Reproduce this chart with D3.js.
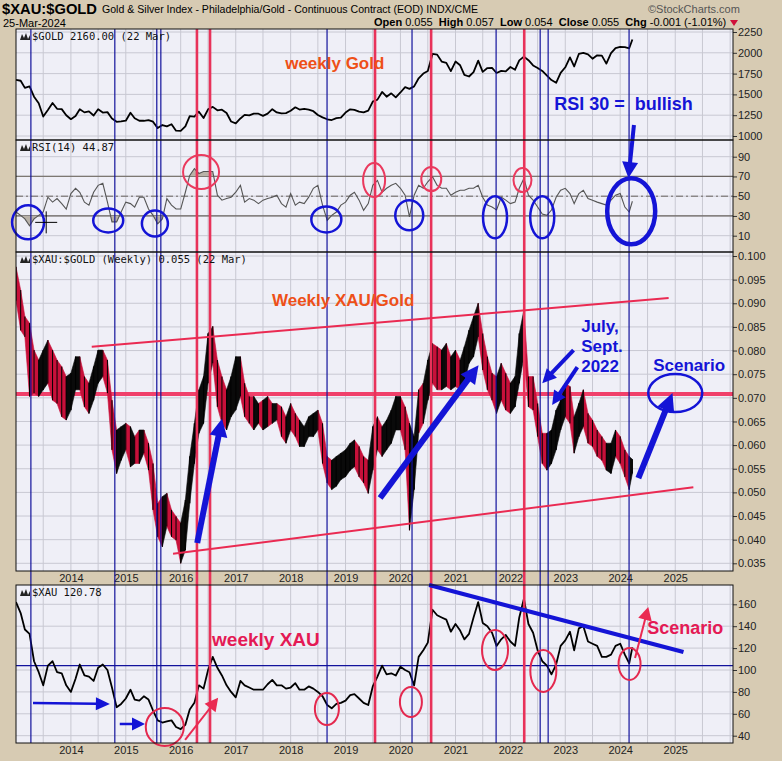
<!DOCTYPE html>
<html><head><meta charset="utf-8">
<script src="https://cdn.jsdelivr.net/npm/d3@7"></script>
<style>
body{margin:0;background:#d7cbb3;}
svg{display:block;font-family:Arial,"Liberation Sans",sans-serif;}
</style>
</head><body>
<svg id="chart" width="782" height="761"></svg>
<script>
// ---------------- DATA (monthly samples, first of each month Jan 2013 .. Mar 2024, then 22 Mar 2024) -------------
const lastDate = "2024-03-22";
const goldValues = [1675,
 1664,1578,1596,1472,1393,1234,1313,1396,1327,1323,1250,1202,
 1240,1322,1284,1296,1246,1322,1282,1287,1210,1171,1175,1184,
 1279,1213,1183,1183,1190,1172,1095,1132,1115,1142,1064,1061,
 1116,1238,1233,1292,1216,1321,1350,1309,1316,1276,1174,1152,
 1211,1254,1249,1268,1268,1242,1269,1322,1283,1271,1275,1303,
 1345,1318,1325,1316,1298,1253,1224,1201,1192,1215,1222,1282,
 1321,1313,1292,1284,1305,1413,1437,1529,1472,1513,1464,1523,
 1587,1566,1596,1694,1751,1781,1986,1978,1895,1879,1780,1895,
 1850,1734,1715,1768,1905,1771,1817,1818,1757,1783,1776,1829,
 1797,1909,1954,1911,1848,1817,1782,1726,1672,1640,1759,1826,
 1945,1836,1986,1999,1982,1929,1970,1966,1870,1996,2057,2072,
 2067,2054,
 2160];
const rsiValues = [
 34,30.6,27,20,27,30.6,34,49,44,47.6,42.5,37,
 52.7,58,54,44,41,54,61,63,44,24,24,34,
 44,42.5,39,49,49,37,30.6,22,27,47.6,41,37,
 37,54,71,78,73,75,75,75,51,46,47.6,49,
 54,61,44,47.6,46,42.5,46,47.6,49,51,42.5,39,
 52.7,41,44,42.5,49,58,61,41,25.5,30.6,34,41,
 44,51,54,46,35.7,42.5,61,66,54,58,61,63,
 58,51,29,51,61,58,64.6,69.7,61,58,58,51,
 54,56,56,58,58,61,49,41,39,36,49,46,
 42.5,44,58,68,51,46,39,32,30.6,36,49,56,
 58,52.7,42.5,52.7,56,47.6,46,44,42.5,41,46,51,
 52.7,39,34,
 44.87];
const ratioValues = [
 0.096,0.089,0.085,0.078,0.077,0.0717,0.076,0.078,0.0745,0.073,0.0717,0.068,
 0.071,0.0745,0.078,0.0717,0.0703,0.073,0.078,0.0787,0.0745,0.0625,0.059,0.0604,
 0.0618,0.059,0.059,0.0576,0.061,0.056,0.052,0.0449,0.0428,0.047,0.0435,0.042,
 0.0378,0.0435,0.052,0.059,0.066,0.071,0.080,0.0822,0.0745,0.068,0.066,0.0703,
 0.073,0.0766,0.0695,0.068,0.0667,0.0674,0.066,0.0667,0.066,0.0674,0.0653,0.0618,
 0.066,0.0646,0.0618,0.0625,0.064,0.0646,0.066,0.0618,0.0547,0.0533,0.054,0.0555,
 0.0561,0.0576,0.059,0.0568,0.054,0.0526,0.0576,0.0618,0.059,0.0618,0.064,0.0674,
 0.0674,0.0646,0.0463,0.0576,0.068,0.0674,0.0745,0.080,0.078,0.0766,0.0787,0.0745,
 0.0766,0.0745,0.078,0.0808,0.0836,0.0865,0.080,0.0766,0.073,0.0703,0.0745,0.0717,
 0.0703,0.0703,0.080,0.0836,0.071,0.0695,0.0646,0.0604,0.059,0.061,0.0653,0.0674,
 0.071,0.0688,0.061,0.0667,0.0688,0.064,0.0625,0.0604,0.0597,0.0576,0.0576,0.0604,
 0.059,0.0555,0.0515,
 0.055];
const ratioHigh = [
 0.0977,0.0928,0.0872,0.0858,0.0801,0.0780,0.0801,0.0822,0.0801,0.0780,0.0766,0.0745,
 0.0752,0.0787,0.0787,0.0745,0.0731,0.0766,0.0801,0.0801,0.0780,0.0695,0.0632,0.0639,
 0.0646,0.0639,0.0618,0.0632,0.0632,0.0604,0.0561,0.0477,0.0491,0.0498,0.0463,0.0449,
 0.0435,0.0484,0.0576,0.0646,0.0717,0.0745,0.0836,0.0851,0.0780,0.0745,0.0717,0.0745,
 0.0787,0.0787,0.0731,0.0703,0.0703,0.0688,0.0695,0.0703,0.0688,0.0688,0.0681,0.0660,
 0.0688,0.0667,0.0653,0.0639,0.0660,0.0667,0.0674,0.0646,0.0576,0.0568,0.0576,0.0583,
 0.0590,0.0604,0.0611,0.0597,0.0576,0.0568,0.0639,0.0660,0.0639,0.0653,0.0674,0.0703,
 0.0703,0.0681,0.0646,0.0618,0.0717,0.0731,0.0780,0.0815,0.0808,0.0801,0.0815,0.0787,
 0.0801,0.0780,0.0808,0.0843,0.0872,0.0900,0.0836,0.0787,0.0752,0.0745,0.0773,0.0752,
 0.0731,0.0745,0.0836,0.0886,0.0745,0.0745,0.0688,0.0625,0.0625,0.0632,0.0674,0.0695,
 0.0731,0.0724,0.0660,0.0688,0.0717,0.0667,0.0653,0.0632,0.0618,0.0604,0.0604,0.0632,
 0.0618,0.0590,0.0576,
 0.0570];
const ratioLow = [
 0.0906,0.0843,0.0829,0.0703,0.0710,0.0703,0.0717,0.0731,0.0695,0.0688,0.0660,0.0653,
 0.0674,0.0717,0.0717,0.0681,0.0667,0.0695,0.0731,0.0745,0.0710,0.0590,0.0540,0.0568,
 0.0590,0.0554,0.0561,0.0561,0.0583,0.0547,0.0463,0.0406,0.0385,0.0428,0.0406,0.0399,
 0.0350,0.0378,0.0477,0.0561,0.0625,0.0646,0.0731,0.0773,0.0681,0.0646,0.0632,0.0660,
 0.0674,0.0703,0.0660,0.0646,0.0632,0.0646,0.0632,0.0639,0.0646,0.0653,0.0618,0.0604,
 0.0632,0.0618,0.0597,0.0597,0.0618,0.0618,0.0632,0.0561,0.0520,0.0506,0.0513,0.0527,
 0.0533,0.0547,0.0554,0.0533,0.0520,0.0498,0.0547,0.0590,0.0576,0.0590,0.0604,0.0632,
 0.0632,0.0590,0.0420,0.0506,0.0625,0.0646,0.0695,0.0731,0.0717,0.0717,0.0724,0.0717,
 0.0724,0.0717,0.0731,0.0773,0.0787,0.0829,0.0759,0.0717,0.0695,0.0667,0.0695,0.0674,
 0.0667,0.0681,0.0731,0.0787,0.0681,0.0674,0.0618,0.0561,0.0547,0.0561,0.0590,0.0632,
 0.0660,0.0646,0.0583,0.0618,0.0639,0.0604,0.0597,0.0576,0.0568,0.0547,0.0540,0.0576,
 0.0561,0.0533,0.0506,
 0.0540];
const xauValues = [
 162,152,137,133,108,98,86,104,108,98,97,86,
 80,92,105,95,94,90,102,105,100,84,66,69,
 74,82,73,72,76,73,63,54,52,53,54,48,
 46,50,64,70,86,83,100,112,102,95,86,80,
 75,90,86,84,82,82,82,87,91,86,86,83,
 84,88,82,82,85,83,80,76,68,65,69,70,
 72,77,78,74,70,68,85,94,104,96,97,95,
 103,100,98,86,112,118,125,155,150,148,146,135,
 142,136,128,133,148,162,143,140,134,122,128,132,
 126,122,148,165,142,134,118,108,104,96,105,122,
 127,135,118,138,140,126,124,122,112,112,114,122,
 124,114,106,
 120.78];

const yearTicks = [2014,2015,2016,2017,2018,2019,2020,2021,2022,2023,2024,2025];
const goldTicks = [1000,1250,1500,1750,2000,2250];
const rsiTicks = [10,30,50,70,90];
const ratioTicks = [0.035,0.040,0.045,0.050,0.055,0.060,0.065,0.070,0.075,0.080,0.085,0.090,0.095,0.100];
const xauTicks = [40,60,80,100,120,140,160];
const blueEventDates = ["2013-04-10","2014-10-20","2015-07-26","2015-08-22","2018-08-31","2020-03-18","2021-09-28","2022-07-18","2022-09-09","2024-02-29"];
const redEventDates = ["2016-04-18","2016-07-14","2019-07-16","2020-07-23","2022-04-03"];
const ratioResistance = 0.0708;
const xauSupport = 104;

// ---------------- LAYOUT ----------------
const L = 16, R = 733;
const P = {
  gold:  {top:29,  bottom:140},
  rsi:   {top:140, bottom:252},
  ratio: {top:252, bottom:571},
  xau:   {top:585, bottom:743}
};
const parse = d3.timeParse("%Y-%m-%d");
const dates = d3.timeMonth.range(new Date(2013,0,1), new Date(2024,3,1)).concat([parse(lastDate)]);

const x = d3.scaleTime().domain([new Date(2013,0,1), new Date(2026,0,20)]).range([L,R]);
const yG = d3.scaleLinear().domain([1000,2250]).range([136,32]);
const yR = d3.scaleLinear().domain([10,90]).range([235.7,156.7]);
const yQ = d3.scaleLinear().domain([0.035,0.100]).range([563.3,256]);
const yX = d3.scaleLinear().domain([40,160]).range([735.7,604.3]);
const yd = yr => { const y = Math.floor(yr); const s = new Date(y,0,1), e = new Date(y+1,0,1); return new Date(+s + (yr-y)*(e-s)); };

const svg = d3.select("#chart");
const defs = svg.append("defs");
const BLUE = "#1414d6", RED = "#e8325a", NAVY = "#12129c";
const PANELBG = "#efeff7", GRID = "#c8c8d2";

// ---------------- HEADER ----------------
svg.append("text").attr("x",2).attr("y",14).attr("font-size",14.5).attr("font-weight","bold")
  .attr("textLength",95).attr("lengthAdjust","spacingAndGlyphs").text("$XAU:$GOLD");
svg.append("text").attr("x",102).attr("y",13).attr("font-size",11).attr("textLength",376)
  .attr("lengthAdjust","spacingAndGlyphs").text("Gold & Silver Index - Philadelphia/Gold - Continuous Contract (EOD) INDX/CME");
svg.append("text").attr("x",3).attr("y",26.5).attr("font-size",11).text("25-Mar-2024");
svg.append("text").attr("x",648).attr("y",13).attr("font-size",11).attr("fill","#555").text("©StockCharts.com");
const hdr = svg.append("text").attr("x",374).attr("y",26).attr("font-size",11);
[["Open",1],[" 0.055  ",0],["High",1],[" 0.057  ",0],["Low",1],[" 0.054  ",0],["Close",1],[" 0.055  ",0],["Chg",1],[" -0.001 (-1.01%)",0]]
 .forEach(([t,b]) => hdr.append("tspan").attr("font-weight", b ? "bold":"normal").attr("xml:space","preserve").text(t));
svg.append("path").attr("d","M730,20 L738,20 L734,26 Z").attr("fill","#d0103a");

// ---------------- PANELS ----------------
function panel(key, yScale, ticks, fmt, clipId){
  const p = P[key];
  const g = svg.append("g");
  g.append("rect").attr("x",L).attr("y",p.top).attr("width",R-L).attr("height",p.bottom-p.top).attr("fill",PANELBG);
  const vg = d3.timeMonth.every(6).range(new Date(2013,6,1), new Date(2026,0,2));
  g.selectAll(null).data(vg).join("line")
    .attr("x1",d=>x(d)).attr("x2",d=>x(d)).attr("y1",p.top).attr("y2",p.bottom)
    .attr("stroke",GRID).attr("stroke-width",1);
  g.selectAll(null).data(ticks).join("line")
    .attr("x1",L).attr("x2",R).attr("y1",d=>yScale(d)).attr("y2",d=>yScale(d))
    .attr("stroke",GRID).attr("stroke-width",1);
  const ax = svg.append("g").attr("transform",`translate(${R},0)`)
    .call(d3.axisRight(yScale).tickValues(ticks).tickFormat(fmt).tickSize(4).tickPadding(1));
  ax.select(".domain").remove();
  ax.selectAll("text").attr("font-size",11).attr("fill","#222").attr("font-family","Arial,'Liberation Sans',sans-serif");
  ax.selectAll("line").attr("stroke","#333");
  defs.append("clipPath").attr("id",clipId).append("rect")
    .attr("x",L).attr("y",p.top).attr("width",R-L).attr("height",p.bottom-p.top);
  return g;
}
const gG = panel("gold", yG, goldTicks, d3.format("d"), "cG");
const gR = panel("rsi", yR, rsiTicks, d3.format("d"), "cR");
const gQ = panel("ratio", yQ, ratioTicks, d3.format(".3f"), "cQ");
const gX = panel("xau", yX, xauTicks, d3.format("d"), "cX");

[P.ratio.bottom, P.xau.bottom].forEach(yy => {
  const ax = svg.append("g").attr("transform",`translate(0,${yy})`)
    .call(d3.axisBottom(x).tickValues(yearTicks.map(y=>new Date(y,0,1))).tickFormat(d3.timeFormat("%Y")).tickSize(0).tickPadding(3));
  ax.select(".domain").remove();
  ax.selectAll("text").attr("font-size",11).attr("fill","#222").attr("font-family","Arial,'Liberation Sans',sans-serif");
});

const data = dates.map((d,i)=>({d, gold:goldValues[i], rsi:rsiValues[i], ratio:ratioValues[i],
  hi:ratioHigh[i], lo:ratioLow[i], xau:xauValues[i]}));

// ---------------- GOLD ----------------
gG.append("path").datum(data).attr("clip-path","url(#cG)")
  .attr("d", d3.line().x(d=>x(d.d)).y(d=>yG(d.gold)))
  .attr("fill","none").attr("stroke","#000").attr("stroke-width",1.8).attr("stroke-linejoin","round");

// ---------------- RSI ----------------
[70,30].forEach(v => gR.append("line").attr("x1",L).attr("x2",R)
  .attr("y1",yR(v)).attr("y2",yR(v)).attr("stroke","#6a6460").attr("stroke-width",1.3));
gR.append("line").attr("x1",L).attr("x2",R).attr("y1",yR(50)).attr("y2",yR(50))
  .attr("stroke","#6a6460").attr("stroke-width",1).attr("stroke-dasharray","7,3,2,3");
defs.append("clipPath").attr("id","cRlow").append("rect").attr("x",L).attr("y",yR(30)).attr("width",R-L).attr("height",P.rsi.bottom-yR(30));
defs.append("clipPath").attr("id","cRhigh").append("rect").attr("x",L).attr("y",P.rsi.top).attr("width",R-L).attr("height",yR(70)-P.rsi.top);
gR.append("path").datum(data).attr("clip-path","url(#cRlow)")
  .attr("d", d3.area().x(d=>x(d.d)).y0(yR(30)).y1(d=>yR(d.rsi))).attr("fill","#b9b2a8");
gR.append("path").datum(data).attr("clip-path","url(#cRhigh)")
  .attr("d", d3.area().x(d=>x(d.d)).y0(yR(70)).y1(d=>yR(d.rsi))).attr("fill","#b9b2a8");
gR.append("path").datum(data).attr("clip-path","url(#cR)")
  .attr("d", d3.line().x(d=>x(d.d)).y(d=>yR(d.rsi)))
  .attr("fill","none").attr("stroke","#555").attr("stroke-width",1.1);

// ---------------- RATIO (range band, coloured by direction) ----------------
gQ.append("line").attr("x1",L).attr("x2",R).attr("y1",yQ(ratioResistance)).attr("y2",yQ(ratioResistance))
  .attr("stroke","#f0406a").attr("stroke-width",4);
const segs = d3.pairs(data);
const gB = gQ.append("g").attr("clip-path","url(#cQ)");
gB.selectAll("path").data(segs).join("path")
  .attr("d", ([a,b]) => `M${x(a.d)},${yQ(a.hi)} L${x(b.d)},${yQ(b.hi)} L${x(b.d)},${yQ(b.lo)} L${x(a.d)},${yQ(a.lo)} Z`)
  .attr("fill", ([a,b]) => b.ratio >= a.ratio ? "#0a0a0a" : "#c8103a")
  .attr("stroke", ([a,b]) => b.ratio >= a.ratio ? "#0a0a0a" : "#c8103a").attr("stroke-width",0.6);
gB.selectAll("line").data(data).join("line")
  .attr("x1",d=>x(d.d)).attr("x2",d=>x(d.d)).attr("y1",d=>yQ(d.hi)).attr("y2",d=>yQ(d.lo))
  .attr("stroke","#000").attr("stroke-width",1);

// ---------------- XAU ----------------
gX.append("line").attr("x1",L).attr("x2",R).attr("y1",yX(xauSupport)).attr("y2",yX(xauSupport))
  .attr("stroke",NAVY).attr("stroke-width",1.2);
gX.append("path").datum(data).attr("clip-path","url(#cX)")
  .attr("d", d3.line().x(d=>x(d.d)).y(d=>yX(d.xau)))
  .attr("fill","none").attr("stroke","#000").attr("stroke-width",1.8).attr("stroke-linejoin","round");

// ---------------- EVENT LINES ----------------
const ev = svg.append("g");
ev.selectAll(null).data(blueEventDates).join("line")
  .attr("x1",d=>x(parse(d))).attr("x2",d=>x(parse(d))).attr("y1",P.gold.top).attr("y2",P.xau.bottom)
  .attr("stroke",NAVY).attr("stroke-width",1.2);
ev.selectAll(null).data(redEventDates).join("line")
  .attr("x1",d=>x(parse(d))).attr("x2",d=>x(parse(d))).attr("y1",P.gold.top).attr("y2",P.xau.bottom)
  .attr("stroke",RED).attr("stroke-width",2.6);

// ---------------- ANNOTATIONS ----------------
const A = svg.append("g");
const pt = (ys, yr, v) => [x(yd(yr)), ys(v)];
function arrow(p1, p2, color, w, hl, hw){
  const dx = p2[0]-p1[0], dy = p2[1]-p1[1], len = Math.hypot(dx,dy), ux = dx/len, uy = dy/len;
  const bx = p2[0]-ux*hl, by = p2[1]-uy*hl;
  A.append("line").attr("x1",p1[0]).attr("y1",p1[1]).attr("x2",bx+ux*1).attr("y2",by+uy*1)
    .attr("stroke",color).attr("stroke-width",w);
  A.append("path").attr("d",`M${p2[0]},${p2[1]} L${bx-uy*hw},${by+ux*hw} L${bx+uy*hw},${by-ux*hw} Z`).attr("fill",color);
}
function ell(c, rx, ry, color, w){
  A.append("ellipse").attr("cx",c[0]).attr("cy",c[1]).attr("rx",rx).attr("ry",ry)
    .attr("fill","none").attr("stroke",color).attr("stroke-width",w);
}
function label(p, t, color, size){
  A.append("text").attr("x",p[0]).attr("y",p[1]).attr("fill",color).attr("font-size",size)
    .attr("font-weight","bold").text(t);
}
// gold panel
label(pt(yG,2017.90,1805),"weekly Gold","#ee5018",17);
label(pt(yG,2022.80,1312),"RSI 30 =\u00a0\u00a0bullish",BLUE,18);
arrow(pt(yG,2024.25,1132), pt(yR,2024.15,68.4), BLUE, 4, 16, 8);
// rsi panel circles
[[2013.22,23.5,16,17],[2014.68,25.5,15,12],[2015.53,22.4,13,13],[2018.65,26.5,15,13],
 [2020.16,30.6,14,15],[2021.72,28.6,12,21],[2022.58,28.6,12,21]]
 .forEach(([yr,v,rx,ry]) => ell(pt(yR,yr,v),rx,ry,BLUE,2.5));
ell(pt(yR,2024.20,34.7),24,33,BLUE,4.5);
[[2016.37,74.5,18,17],[2019.52,66.3,11,17],[2020.56,67.3,10,12],[2022.22,66.3,9,12]]
 .forEach(([yr,v,rx,ry]) => ell(pt(yR,yr,v),rx,ry,"#ea3a5e",2));
const cc = pt(yR,2013.55,23.5);
A.append("path").attr("d",`M${cc[0]-11},${cc[1]} H${cc[0]+11} M${cc[0]},${cc[1]-11} V${cc[1]+11}`).attr("stroke","#000").attr("stroke-width",1);
// ratio panel
label(pt(yQ,2017.66,0.0894),"Weekly XAU/Gold","#ee5018",17);
A.append("line").attr("x1",pt(yQ,2014.38,0.0808)[0]).attr("y1",pt(yQ,2014.38,0.0808)[1])
  .attr("x2",pt(yQ,2024.88,0.0911)[0]).attr("y2",pt(yQ,2024.88,0.0911)[1]).attr("stroke","#ea2a52").attr("stroke-width",2);
A.append("line").attr("x1",pt(yQ,2015.86,0.0370)[0]).attr("y1",pt(yQ,2015.86,0.0370)[1])
  .attr("x2",pt(yQ,2025.33,0.0511)[0]).attr("y2",pt(yQ,2025.33,0.0511)[1]).attr("stroke","#ea2a52").attr("stroke-width",2);
arrow(pt(yQ,2016.30,0.0393), pt(yQ,2016.75,0.0656), BLUE, 6, 18, 9);
arrow(pt(yQ,2019.63,0.0488), pt(yQ,2021.42,0.0769), BLUE, 6, 18, 9);
arrow(pt(yQ,2024.33,0.0530), pt(yQ,2024.95,0.0710), BLUE, 6, 18, 9);
arrow(pt(yQ,2023.15,0.0801), pt(yQ,2022.58,0.0731), BLUE, 4, 14, 7);
arrow(pt(yQ,2023.22,0.0765), pt(yQ,2022.76,0.0685), BLUE, 4, 14, 7);
label(pt(yQ,2023.29,0.0839),"July,",BLUE,17);
label(pt(yQ,2023.29,0.0797),"Sept.",BLUE,17);
label(pt(yQ,2023.29,0.0755),"2022",BLUE,17);
label(pt(yQ,2024.60,0.0757),"Scenario",BLUE,17);
ell(pt(yQ,2025.00,0.0710),27,19,BLUE,2.5);
// xau panel
label(pt(yX,2016.57,121.9),"weekly XAU","#e41a55",19);
arrow(pt(yX,2013.31,69.9), pt(yX,2014.71,69.0), BLUE, 2.5, 14, 6.5);
arrow(pt(yX,2014.89,50.7), pt(yX,2015.35,50.7), BLUE, 2.5, 13, 6.5);
[[2015.71,48.0,19,19],[2018.66,64.4,12,16],[2020.19,70.8,11,15],[2021.72,118.3,13,20],[2022.60,99.1,13,21],[2024.17,105.5,11,16]]
 .forEach(([yr,v,rx,ry]) => ell(pt(yX,yr,v),rx,ry,"#e4284e",2));
arrow(pt(yX,2016.08,36.2), pt(yX,2016.68,74.6), "#ea2a52", 2, 13, 7);
A.append("line").attr("x1",pt(yX,2020.52,177.6)[0]).attr("y1",pt(yX,2020.52,177.6)[1])
  .attr("x2",pt(yX,2025.15,116.4)[0]).attr("y2",pt(yX,2025.15,116.4)[1]).attr("stroke",BLUE).attr("stroke-width",4);
arrow(pt(yX,2024.27,111.0), pt(yX,2024.51,157.5), "#ea2a52", 2, 13, 7);
label(pt(yX,2024.49,132.9),"Scenario","#e41a55",18);

// ---------------- PANEL LEGENDS & BORDERS ----------------
function legend(key, t){
  const y0 = P[key].top;
  svg.append("path").attr("d",`M20,${y0+11} l2,-6 l2,4 l2,-5 l2,6 l2,-4 v5 h-10 z`).attr("fill","#222");
  svg.append("text").attr("x",32).attr("y",y0+11).attr("font-family","'DejaVu Sans Mono',monospace")
    .attr("font-size",10.5).attr("fill","#111").text(t);
}
legend("gold","$GOLD 2160.00 (22 Mar)");
legend("rsi","RSI(14) 44.87");
legend("ratio","$XAU:$GOLD (Weekly) 0.055 (22 Mar)");
legend("xau","$XAU 120.78");
Object.values(P).forEach(p => svg.append("rect").attr("x",L).attr("y",p.top).attr("width",R-L)
  .attr("height",p.bottom-p.top).attr("fill","none").attr("stroke","#111").attr("stroke-width",1));
</script>
</body></html>
